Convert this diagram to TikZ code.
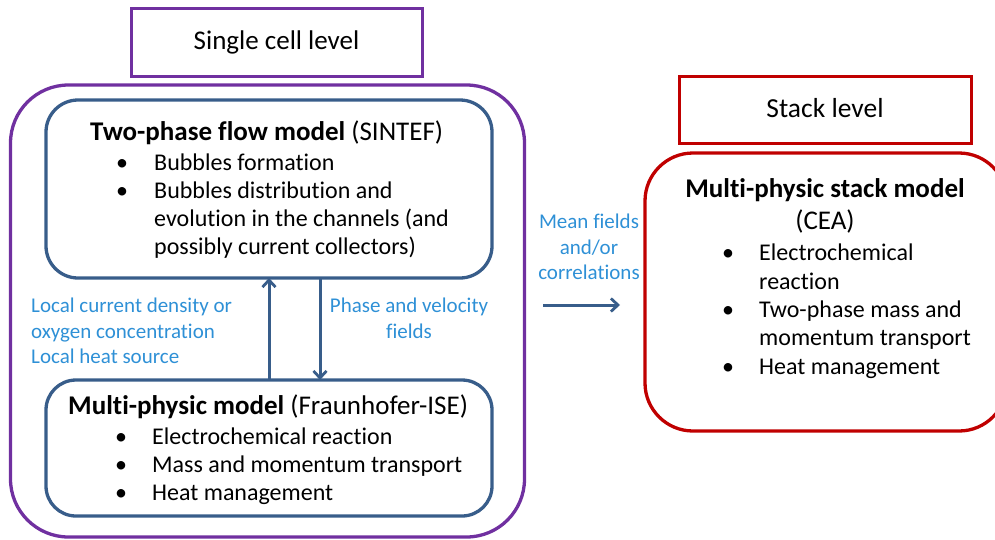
\documentclass[tikz,border=0pt]{standalone}
\usepackage{fontspec}
\setmainfont{Carlito}[Ligatures=NoCommon]
\usetikzlibrary{arrows.meta}
\definecolor{cpurple}{RGB}{112,48,160}
\definecolor{cblue}{RGB}{56,93,138}
\definecolor{cred}{RGB}{192,0,0}
\definecolor{clabel}{RGB}{46,144,214}
\tikzset{
  frame/.style={draw, line width=3.3pt, inner sep=0pt, outer sep=0pt},
  txt/.style={inner sep=0pt, yshift=-5pt, text height=0.72em, text depth=0.22em, font=\fontsize{24}{28}\selectfont},
  ttl/.style={inner sep=0pt, yshift=-5pt, text height=0.72em, text depth=0.22em, font=\fontsize{27}{31}\selectfont},
  lbl/.style={inner sep=0pt, yshift=-5pt, text height=0.72em, text depth=0.22em, font=\fontsize{21}{25}\selectfont, text=clabel},
  bul/.style={txt, anchor=center},
  link/.style={draw=cblue, line width=3pt, -{Straight Barb[length=7pt,width=13pt,line width=2.8pt]}}
}
\begin{document}
\begin{tikzpicture}[x=1pt,y=-1pt]
\useasboundingbox (0,0) rectangle (995,539);
\clip (0,0) rectangle (995,539);
% level boxes
\node[frame, draw=cpurple, line width=3pt, minimum width=291pt, minimum height=68pt] (single) at (276.5,42) {};
\node[ttl] (singlet) at (single.center) {Single cell level};
\node[frame, draw=cred, line width=3pt, minimum width=292pt, minimum height=67pt] (stacklev) at (825,109.5) {};
\node[ttl, font=\fontsize{27.5}{31}\selectfont] (stacklevt) at (stacklev.center) {Stack level};
% outer purple
\node[frame, draw=cpurple, rounded corners=58pt, minimum width=514pt, minimum height=452pt] (outer) at (267.5,311) {};
% two-phase box
\node[frame, draw=cblue, rounded corners=32pt, minimum width=446pt, minimum height=178pt] (tp) at (269,189) {};
\node[ttl, anchor=west] (tptitle) at (90,133) {\textbf{Two-phase flow model} (SINTEF)};
\node[bul] (tpb1) at (122,163) {•};
\node[txt, anchor=west] (tpl1) at (154,163) {Bubbles formation};
\node[bul] (tpb2) at (122,191) {•};
\node[txt, anchor=west] (tpl2) at (154,191) {Bubbles distribution and};
\node[txt, anchor=west] (tpl3) at (154,219) {evolution in the channels (and};
\node[txt, anchor=west] (tpl4) at (154,247) {possibly current collectors)};
% multi-physic box
\node[frame, draw=cblue, rounded corners=30pt, minimum width=446pt, minimum height=136pt] (mp) at (269,448) {};
\node[ttl, anchor=west] (mptitle) at (68,407) {\textbf{Multi-physic model} (Fraunhofer-ISE)};
\node[bul] (mpb1) at (121,437) {•};
\node[txt, anchor=west] (mpl1) at (152,437) {Electrochemical reaction};
\node[bul] (mpb2) at (121,465) {•};
\node[txt, anchor=west] (mpl2) at (152,465) {Mass and momentum transport};
\node[bul] (mpb3) at (121,493) {•};
\node[txt, anchor=west] (mpl3) at (152,493) {Heat management};
% arrows between
\draw[link] (mp.north -| 269,0) -- (tp.south -| 269,0);
\draw[link] (tp.south -| 320,0) -- (mp.north -| 320,0);
\node[lbl, anchor=west] (ll1) at (31,305) {Local current density or};
\node[lbl, anchor=west] (ll2) at (31,331) {oxygen concentration};
\node[lbl, anchor=west] (ll3) at (31,356) {Local heat source};
\node[lbl] (rl1) at (409,305) {Phase and velocity};
\node[lbl] (rl2) at (409,331) {fields};
% stack model
\node[frame, draw=cred, rounded corners=48pt, minimum width=362pt, minimum height=278pt] (stack) at (826,292) {};
\node[ttl] (sttitle) at (825,190) {\textbf{Multi-physic stack model}};
\node[ttl] (sttitle2) at (825,222) {(CEA)};
\node[bul] (stb1) at (728,253) {•};
\node[txt, anchor=west] (stl1) at (759,253) {Electrochemical};
\node[txt, anchor=west] (stl2) at (759,282) {reaction};
\node[bul] (stb2) at (728,310) {•};
\node[txt, anchor=west] (stl3) at (759,310) {Two-phase mass and};
\node[txt, anchor=west] (stl4) at (759,338) {momentum transport};
\node[bul] (stb3) at (728,367) {•};
\node[txt, anchor=west] (stl5) at (759,367) {Heat management};
% link to stack
\coordinate (a0) at (543,305);
\coordinate (a1) at (620,305);
\draw[link] (a0) -- (a1);
\node[lbl] (ml1) at (589,221) {Mean fields};
\node[lbl] (ml2) at (589,247) {and/or};
\node[lbl] (ml3) at (589,272) {correlations};
\end{tikzpicture}
\end{document}
